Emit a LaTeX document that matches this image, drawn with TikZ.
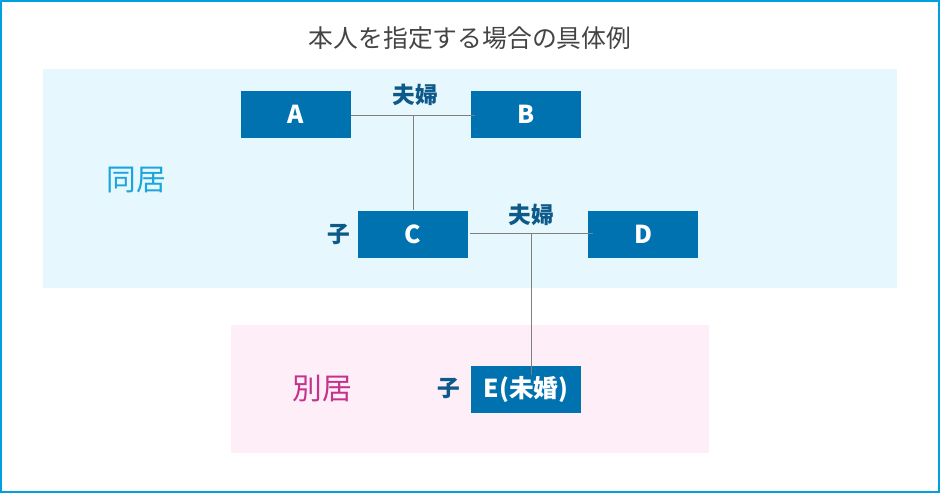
\documentclass[tikz,border=0pt]{standalone}
\usepackage{fontspec}
\setmainfont{Noto Sans CJK JP}
\newfontfamily\jp{Noto Sans CJK JP}
\definecolor{frame}{HTML}{00A0E0}
\definecolor{boxblue}{HTML}{0072B0}
\definecolor{lblblue}{HTML}{0D5A8A}
\definecolor{bgblue}{HTML}{E6F8FD}
\definecolor{bgpink}{HTML}{FDEEF8}
\definecolor{txtgray}{HTML}{444444}
\definecolor{doukyo}{HTML}{1BA5DE}
\definecolor{bekkyo}{HTML}{C4328C}
\definecolor{linegray}{HTML}{7F7F7F}
\tikzset{
  person/.style={fill=boxblue, text=white, inner sep=0pt, minimum width=82.5pt, minimum height=35.25pt, font=\jp\bfseries\fontsize{18.5}{18.5}\selectfont},
  rel/.style={text=lblblue, inner sep=0pt, font=\jp\bfseries\fontsize{17}{17}\selectfont},
  area/.style={inner sep=0pt, font=\jp\fontsize{22.3}{22.3}\selectfont},
  conn/.style={draw=linegray, line width=0.75pt},
}
\begin{document}
\begin{tikzpicture}[x=0.75pt,y=-0.75pt]
\useasboundingbox (0,0) rectangle (940,493);
\fill[white] (0,0) rectangle (940,493);
\draw[frame, line width=1.5pt] (1,1) rectangle (939,492);
\fill[bgblue] (43,69) rectangle (897,288);
\fill[bgpink] (231,325) rectangle (709,453);
\node[inner sep=0pt, text=txtgray, font=\jp\fontsize{18.6}{18.6}\selectfont] (title) at (470,38) {本人を指定する場合の具体例};
\node[area, text=doukyo] (dk) at (136,180) {同居};
\node[area, text=bekkyo] (bk) at (322,389) {別居};
\node[person] (A) at (296,114.5) {A};
\node[person] (B) at (526,114.5) {B};
\node[person] (C) at (413,234) {C};
\node[person] (D) at (643,234) {D};
\node[person] (E) at (526,389) {E(未婚)};
\node[rel] (f1) at (415,95) {夫婦};
\node[rel] (f2) at (531,215) {夫婦};
\node[rel] (k1) at (339,234) {子};
\node[rel] (k2) at (449,388) {子};
\coordinate (m1) at (413,115.5);
\coordinate (m2) at (531.5,233.5);
\coordinate (b1) at (475,115.5);
\coordinate (d1) at (593,233.5);
\coordinate (e1) at (531.5,375);
\draw[conn] (A.east |- m1) -- (b1);
\draw[conn] (m1) -- (C.north);
\draw[conn] ([xshift=1.5pt]C.east |- m2) -- (d1);
\draw[conn] (m2) -- (e1);
\end{tikzpicture}
\end{document}
